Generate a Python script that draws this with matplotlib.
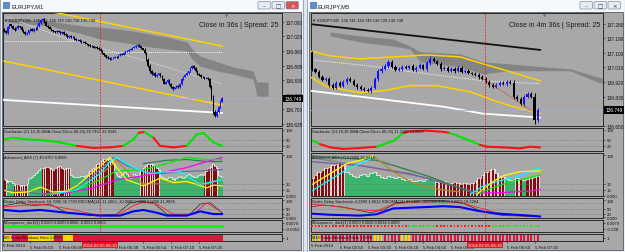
import matplotlib
matplotlib.use("Agg")
import matplotlib.pyplot as plt
import matplotlib.transforms as mtrans
from matplotlib.patches import Rectangle, FancyBboxPatch
import numpy as np

plt.rcParams['font.family'] = ['Liberation Sans', 'DejaVu Sans']

W, H = 625, 253
BG = '#a8a8a8'
BULL = '#1414ff'
BEAR = '#000000'

# ================= LEFT WINDOW : EURJPY,M1 =================
open0_l = 137.060
close_l = [137.050, 137.040, 137.065, 137.078, 137.070, 137.060, 137.055, 137.062, 137.070, 137.066,
           137.055, 137.045, 137.035, 137.040, 137.052, 137.058, 137.050, 137.060, 137.058, 137.070,
           137.085, 137.098, 137.102, 137.090, 137.072, 137.066, 137.060, 137.052, 137.048, 137.044,
           137.050, 137.046, 137.040, 137.044, 137.036, 137.030, 137.022, 137.028, 137.020, 137.024,
           137.014, 137.008, 137.010, 137.004, 136.998, 137.002, 136.994, 136.990, 136.986, 136.982,
           136.980, 136.975, 136.978, 136.972, 136.969, 136.962, 136.950, 136.940, 136.934, 136.928,
           136.924, 136.928, 136.930, 136.935, 136.933, 136.940, 136.946, 136.944, 136.952, 136.958,
           136.960, 136.966, 136.969, 136.975, 136.978, 136.982, 136.986, 136.980, 136.972, 136.966,
           136.950, 136.920, 136.895, 136.870, 136.857, 136.862, 136.848, 136.855, 136.860, 136.850,
           136.835, 136.815, 136.822, 136.830, 136.815, 136.800, 136.792, 136.798, 136.805, 136.800,
           136.815, 136.835, 136.845, 136.855, 136.862, 136.870, 136.885, 136.893, 136.885, 136.870,
           136.858, 136.852, 136.845, 136.842, 136.838, 136.840, 136.835, 136.800, 136.750, 136.690,
           136.672, 136.690, 136.712, 136.735, 136.749]
wick_l = [4, 3, 5, 4, 3, 4, 5, 3, 4, 3,
          4, 5, 3, 4, 3, 4, 3, 4, 5, 4,
          5, 4, 6, 4, 3, 4, 3, 4, 3, 3,
          4, 3, 4, 3, 4, 3, 4, 3, 3, 4,
          3, 4, 3, 3, 4, 3, 4, 3, 3, 4,
          3, 4, 3, 3, 4, 5, 4, 3, 4, 3,
          5, 3, 4, 3, 3, 4, 3, 4, 3, 4,
          3, 4, 3, 4, 3, 4, 5, 3, 4, 3,
          5, 6, 8, 6, 5, 4, 5, 4, 3, 4,
          5, 4, 3, 4, 5, 4, 6, 3, 4, 3,
          4, 5, 4, 3, 4, 3, 4, 5, 4, 3,
          4, 3, 4, 3, 4, 3, 5, 6, 10, 12,
          8, 5, 4, 5, 4]
bid_l = 136.749
yticks_l = [137.090, 137.025, 136.960, 136.895, 136.830, 136.765, 136.700, 136.635]

chan_hi_x_l, chan_hi_l = [0, 124], [137.177, 136.982]
chan_lo_x_l, chan_lo_l = [0, 124], [136.915, 136.719]
white_x_l, white_l = [0, 124], [136.742, 136.684]
ma_x_l, ma_l = [1.7, 35.8, 83, 124], [137.111, 137.013, 136.911, 136.813]
piv1_x_l, piv1_l = [0, 41.5], [137.005, 137.005]
piv2_x_l, piv2_l = [54.6, 124], [136.957, 136.957]
cloud_x_l = [1.7, 26.2, 44.9, 54.6, 73.4, 83, 92.7, 104.1, 106.9, 111.5, 121.2, 130.3, 141.6, 143.9, 150.2]
cloud_top_l = [137.106, 137.093, 137.071, 137.066, 137.049, 137.035, 137.022, 137.000, 136.969, 136.937,
               136.912, 136.889, 136.871, 136.822, 136.822]
cloud_bot_l = [137.089, 137.071, 137.035, 137.013, 136.991, 136.978, 136.969, 136.960, 136.924, 136.893,
               136.871, 136.857, 136.835, 136.759, 136.759]
vline_l = 54.6

stoch_x_l = [-0.3, 5.3, 12.9, 22.4, 31.9, 41.4, 50.8, 60.3, 67.9, 73.6, 76.7, 80.1, 85, 88.8, 96.3,
             103.9, 109.6, 113.4, 119.1, 124]
stoch_v_l = [52, 60, 52, 48, 37, 20, 10, 13, 20, 52, 85, 88, 60, 20, 13, 20, 76, 84, 37, 20]
stoch_c_l = 'gggggrrrggrgrrrgggg'

adx_hist_l = [43, 40,
              35, 36, 38, 33,
              27, 29, 30, 26, 25, 27, 28, 30,
              42, 45, 48, 52, 56, 60, 65, 70,
              68, 70, 72, 71, 69, 66, 65, 68, 72, 74, 73, 70, 67, 66, 68, 70,
              52, 50, 48, 47, 46, 48, 50, 49, 48, 52,
              58, 62, 66, 70, 74, 78, 82, 86, 88, 90, 91, 90, 88, 85, 80,
              58, 55, 50, 48, 52, 56, 60, 55, 48, 45, 50, 54, 52, 50, 56,
              66, 70, 74, 77, 80, 79, 78, 76, 73, 70, 64,
              50, 47, 44, 42, 45, 48, 46, 43, 40, 44, 48, 50, 47, 45, 48, 52, 54, 52, 50, 48, 47, 50, 53, 55, 52,
              56, 62, 68, 72, 76, 78, 74, 68,
              52, 50, 48]
adx_runs_l = [('m', 2), ('g', 4), ('m', 8), ('g', 8), ('m', 16), ('g', 10), ('m', 15), ('g', 15),
              ('m', 11), ('g', 25), ('m', 8), ('g', 3)]
adx_lines_l = {
    '#6b6ba8': ([0, 9.1, 20.7, 35.7, 50.8, 62.2, 69.8, 79.3, 88.8, 100.1, 111.5, 124],
                [15, 12, 5, 10, 50, 95, 75, 60, 55, 60, 62, 65]),
    '#2e7d4f': ([79.3, 92.6, 103.9, 115.3, 124], [80, 88, 90, 85, 85]),
    '#b8862b': ([56.9, 64.1, 73.6, 79.3, 88.8, 96.5, 103.9, 115.3, 124], [60, 88, 45, 30, 30, 35, 35, 30, 40]),
    '#ff00ff': ([22.4, 35.7, 50.8, 64.1, 79.3, 92.6, 103.9, 115.3, 124], [3, 8, 20, 40, 50, 60, 70, 85, 95]),
    '#00ee00': ([24.1, 41.4, 54.6, 64.1, 79.3, 92.6, 103.9, 115.3, 124], [3, 15, 40, 62, 65, 80, 95, 90, 90]),
    '#00ffff': ([28.1, 41.4, 54.6, 60.3, 64.1, 73.6, 83.1, 92.6, 100.1, 111.5, 119.1, 124],
                [5, 15, 55, 85, 95, 70, 55, 60, 60, 28, 36, 40]),
    '#ffff00': ([0, 5.2, 13.8, 20.7, 27.6, 35.7, 41.4, 50.8, 60.3, 64.1, 69.8, 79.3, 88.8, 96.5, 103.9, 115.3, 119.1, 124],
                [14, 8, 10, 22, 10, 12, 25, 60, 95, 70, 40, 25, 44, 33, 36, 20, 27, 25]),
}

drake_blue_x_l = [0, 9.1, 20.5, 35.7, 54.6, 66, 73.6, 79.3, 86.9, 92.6, 103.9, 111.5, 119.1, 124]
drake_blue_l = [42, 34, 42, 26, 9, 9, 34, 42, 26, 9, 9, 34, 18, 18]
drake_red_x_l = [0, 9.1, 20.5, 35.7, 50.8, 64.1, 73.6, 79.3, 86.9, 96.5, 107.7, 115.3, 122.9]
drake_red_l = [59, 67, 76, 51, 17, 9, 67, 88, 76, 17, 17, 84, 34]
drake_blk_x_l = [0, 9.1, 16.7, 26.2, 35.7, 50.8, 64.1, 71.7, 77.4, 85, 92.6, 105.8, 111.5, 117.2, 124]
drake_blk_l = [67, 84, 67, 76, 26, 9, 17, 84, 92, 84, 17, 17, 76, 84, 26]

kumo_runs_l = [('y', 5), ('r', 9), ('y', 15), ('r', 5), ('y', 6), ('r', 85)]

time_ticks_l = [15, 31, 63, 79, 95, 111]
time_labels_l = ['5 Feb 05:50', '5 Feb 06:06', '5 Feb 06:38', '5 Feb 06:54', '5 Feb 07:10', '5 Feb 07:26']

# ================= RIGHT WINDOW : EURJPY,M5 =================
open0_r = 137.100
close_r = [137.000, 136.985, 136.953, 136.935, 136.941, 136.904, 136.886, 136.916, 136.898, 136.922,
           136.941, 136.928, 136.904, 136.892, 136.879, 136.873, 136.867, 136.886, 136.941, 136.990,
           137.002, 137.020, 137.045, 137.014, 136.996, 137.002, 137.014, 137.008, 137.020, 136.996,
           137.008, 137.026, 137.002, 137.038, 137.063, 137.051, 137.032, 137.002, 137.008, 136.990,
           137.002, 136.990, 137.008, 136.984, 136.990, 136.977, 136.971, 136.965, 136.953, 136.941,
           136.922, 136.904, 136.892, 136.904, 136.916, 136.910, 136.922, 136.916, 136.830, 136.818,
           136.788, 136.830, 136.849, 136.830, 136.684, 136.749]
wick_r = [12, 8, 10, 8, 10, 12, 8, 10, 8, 10,
          12, 8, 10, 12, 8, 10, 8, 12, 10, 12,
          15, 10, 12, 8, 10, 8, 12, 10, 8, 10,
          12, 10, 8, 12, 15, 10, 8, 12, 10, 8,
          10, 12, 8, 10, 8, 10, 8, 10, 12, 8,
          10, 12, 8, 10, 8, 10, 12, 8, 15, 12,
          10, 12, 10, 8, 20, 10]
bid_r = 136.749
yticks_r = [137.280, 137.190, 137.100, 137.010, 136.920, 136.830, 136.650]

black_x_r, black_r = [-0.6, 65.6], [137.277, 137.118]
chan_hi_x_r = [-0.6, 5.2, 13.8, 23.3, 33.1, 42.6, 49.2, 56.9, 65.6]
chan_hi_r = [137.112, 137.081, 137.063, 137.075, 137.087, 137.075, 137.032, 136.984, 136.928]
chan_lo_x_r = [-0.6, 4.3, 13.8, 20.4, 28.2, 36.0, 45.4, 53.2, 59.8, 65.6]
chan_lo_r = [136.953, 136.892, 136.855, 136.867, 136.898, 136.898, 136.861, 136.800, 136.757, 136.726]
mid_x_r = [-0.6, 5.2, 18.7, 28.2, 37.7, 49.2, 65.6]
mid_r = [137.057, 137.045, 137.014, 136.984, 136.959, 136.928, 136.910]
white_x_r = [-0.6, 18.7, 37.7, 49.2, 65.6]
white_r = [136.867, 136.818, 136.769, 136.726, 136.702]
cloud_x_r = [5.2, 13.8, 23.3, 28.2, 31.1, 42.6, 49.2, 56.9, 66.5, 74.2, 82.0, 83.7]
cloud_top_r = [137.228, 137.204, 137.185, 137.142, 137.106, 137.094, 137.045, 137.032, 137.014, 137.002, 136.953, 136.941]
cloud_bot_r = [137.204, 137.167, 137.142, 137.124, 137.045, 137.014, 136.971, 136.990, 136.990, 136.990, 136.922, 136.910]
trend_x_r, trend_r = [49.2, 63.6], [136.941, 136.739]
vline_r = 49.8

stoch_x_r = [-0.6, 2.3, 5.2, 9, 13.8, 18.6, 23.4, 26.3, 28.2, 33, 37.7, 39.6, 44.5, 48.3, 50.3, 55, 59.8, 62.7, 65.6]
stoch_v_r = [52, 29, 13, 5, 10, 16, 44, 84, 92, 95, 89, 84, 52, 25, 16, 13, 8, 16, 13]
stoch_c_r = 'grrrrggrrrrggrrrrr'

adx_hist_r = [45, 52, 58, 63, 68, 72, 76, 80, 83, 82,
              58, 54, 50, 48, 52, 55, 50, 56, 58, 52, 48, 45, 50, 47, 44, 46, 42, 40, 42, 38, 36, 40, 38, 42, 44, 40,
              35, 34, 36, 33, 32, 34, 33, 30, 32, 30,
              32, 38, 45, 52, 58, 64, 66, 56,
              50, 46, 42, 40, 38, 44, 42, 40, 42, 45, 48, 50]
adx_runs_r = [('m', 10), ('g', 26), ('m', 20), ('g', 3), ('m', 2), ('g', 1), ('m', 4)]
adx_lines_r = {
    '#808080': ([-0.6, 17.5, 35.9, 47.4], [95, 70, 40, 5]),
    '#7a5aa0': ([-0.6, 13.8, 28.2, 42.5, 49.1], [85, 75, 55, 20, 5]),
    '#2e7d4f': ([-0.6, 18.6, 33, 45.6], [99, 88, 50, 10]),
    '#b8862b': ([17.6, 23.4, 28.2, 33, 37.7, 42.5], [99, 60, 35, 22, 15, 10]),
    '#ff00ff': ([49.1, 54.4, 57.9, 62.7, 65.6], [8, 8, 10, 12, 16]),
    '#00ee00': ([47.4, 52, 56.9, 62.7, 65.6], [5, 20, 35, 45, 52]),
    '#00ffff': ([-0.6, 5.2, 10, 17.6], [10, 40, 65, 95]),
    '#00fffe': ([45.6, 49.3, 55, 59.8, 65.6], [5, 25, 40, 50, 70]),
    '#ffff00': ([-0.6, 5.2, 10, 13.8, 17.6], [25, 55, 80, 88, 99]),
    '#fffe00': ([47.4, 52, 55, 59.8, 65.6], [5, 35, 50, 60, 62]),
}

drake_blue_x_r = [-0.6, 5.2, 13.8, 18.6, 23.4, 28.2, 33, 37.7, 42.5, 47.4, 53.1, 58.8, 65.6]
drake_blue_r = [21, 14, 9, 17, 51, 55, 59, 64, 59, 38, 21, 14, 4]
drake_red_x_r = [-0.6, 5.2, 13.8, 18.6, 23.4, 28.2, 37.7, 42.5, 47.4, 53.1, 58.8, 65.6]
drake_red_r = [76, 67, 42, 38, 76, 88, 92, 88, 59, 26, 9, 4]
drake_blk_x_r = [-0.6, 3.2, 9, 16.7, 20.5, 24.4, 28.2, 33, 37.7, 43.5, 49.3, 55, 65.6]
drake_blk_r = [59, 71, 59, 26, 42, 84, 92, 97, 97, 80, 30, 9, 4]

mosq_runs_r = [('r', 28), ('g', 8), ('r', 16), ('g', 14)]
kumo_runs_r = [('y', 3), ('r', 15), ('y', 3), ('r', 5), ('y', 3), ('r', 37)]

time_ticks_r = [8, 16, 24, 32, 40, 56, 64]
time_labels_r = ['5 Feb 02:50', '5 Feb 03:30', '5 Feb 04:10', '5 Feb 04:50', '5 Feb 05:30',
                 '5 Feb 06:50', '5 Feb 07:30']

# ================= drawing =================
fig = plt.figure(figsize=(W / 100, H / 100), dpi=100)
fig.patch.set_facecolor('#dde6f1')

bg = fig.add_axes([0, 0, 1, 1])
bg.set_xlim(0, W)
bg.set_ylim(H, 0)
bg.axis('off')
bg.set_zorder(-10)


def window(x0, x1, title, close_red):
    bg.add_patch(Rectangle((x0, 0), x1 - x0, H, fc='#eaf0f7', ec='#8d9db2', lw=0.6))
    bg.add_patch(Rectangle((x0 + 1, 1), x1 - x0 - 2, 11.5, fc='#f6f9fc', ec='none'))
    bg.add_patch(Rectangle((x0 + 2, 13), x1 - x0 - 4, 238, fc=BG, ec='#5a5a5a', lw=0.6))
    bg.add_patch(Rectangle((x0 + 3, 3), 6, 6, fc='#5d8fd0', ec='#2c5a9a', lw=0.4))
    bg.text(x0 + 11, 6.5, title, fontsize=4.2, va='center', ha='left', color='#1a1a1a')
    bx = x1 - 45
    for k, glyph in enumerate(['\u2013', '\u25a1', '\u00d7']):
        fc = '#d9534f' if (k == 2 and close_red) else '#e6ecf3'
        tc = 'white' if (k == 2 and close_red) else '#333333'
        bg.add_patch(FancyBboxPatch((bx + 14 * k, 2.5), 12.5, 7.5, boxstyle='round,pad=0,rounding_size=1.2',
                                    fc=fc, ec='#7f8fa6', lw=0.5))
        bg.text(bx + 14 * k + 6.25, 6.4, glyph, fontsize=4, ha='center', va='center', color=tc,
                family=['DejaVu Sans'])


window(0, 303, 'EURJPY,M1', True)
window(307, 625, 'EURJPY,M5', False)


def ax_px(x0, y0, x1, y1):
    return fig.add_axes([x0 / W, 1 - y1 / H, (x1 - x0) / W, (y1 - y0) / H])


def style(ax, xlim, ylim, lsize=3.2):
    ax.set_facecolor(BG)
    ax.set_xlim(*xlim)
    ax.set_ylim(*ylim)
    ax.yaxis.tick_right()
    ax.tick_params(axis='y', length=1.5, width=0.4, pad=1, labelsize=lsize, colors='#111111')
    ax.tick_params(axis='x', bottom=False, labelbottom=False)
    for s in ax.spines.values():
        s.set_color('#2a2a2a')
        s.set_linewidth(0.7)


def runs(r):
    out = []
    for c, n in r:
        out += [c] * n
    return out


def label(ax, txt):
    ax.text(0.004, 0.96, txt, transform=ax.transAxes, fontsize=2.9, va='top', ha='left', color='#111111')


def candles(ax, o0, closes, wicks, width, wlw):
    c = np.array(closes)
    o = np.concatenate([[o0], c[:-1]])
    w = np.array(wicks) * 0.001
    x = np.arange(len(c))
    hi = np.maximum(o, c) + w
    lo = np.minimum(o, c) - w
    col = [BULL if cc >= oo else BEAR for oo, cc in zip(o, c)]
    ax.vlines(x, lo, hi, colors=col, linewidth=wlw, zorder=6)
    h = np.maximum(np.abs(c - o), 0.0015)
    ax.bar(x, h, bottom=np.minimum(o, c), width=width, color=col, linewidth=0, zorder=7)


def vline(ax, xv):
    ax.axvline(xv, color='#e8201c', lw=0.6, ls=(0, (2, 1.6)), zorder=9)


def build(side):
    if side == 'L':
        X0, X1 = 3, 282
        xl = (-0.57, 158.1)
        n = len(close_l)
        d = dict(o0=open0_l, close=close_l, wick=wick_l, bid=bid_l, yt=yticks_l, ylim=(136.626, 137.129),
                 bw=0.85, wlw=0.7, vl=vline_l)
    else:
        X0, X1 = 311, 603
        xl = (-0.29, 83.7)
        n = len(close_r)
        d = dict(o0=open0_r, close=close_r, wick=wick_r, bid=bid_r, yt=yticks_r, ylim=(136.653, 137.345),
                 bw=0.62, wlw=0.7, vl=vline_r)
    x = np.arange(n)

    # ---- main price chart ----
    ax = ax_px(X0, 14, X1, 127)
    style(ax, xl, d['ylim'], lsize=3.4)
    ax.set_yticks(d['yt'])
    ax.set_yticklabels(['%.3f' % v for v in d['yt']])
    if side == 'L':
        ax.fill_between(cloud_x_l, cloud_bot_l, cloud_top_l, color='#848484', lw=0, zorder=1)
        ax.plot(ma_x_l, ma_l, color='#c8c8c8', lw=0.6, zorder=2)
        ax.plot(piv1_x_l, piv1_l, color='#f2f2f2', lw=0.7, ls=(0, (1, 1)), zorder=2)
        ax.plot(piv2_x_l, piv2_l, color='#f2f2f2', lw=0.7, ls=(0, (1, 1)), zorder=2)
        ax.plot(chan_hi_x_l, chan_hi_l, color='#ffd200', lw=1.1, zorder=3)
        ax.plot(chan_lo_x_l, chan_lo_l, color='#ffd200', lw=1.1, zorder=3)
        ax.plot(white_x_l, white_l, color='white', lw=1.3, zorder=3)
        label(ax, '\u25bc EURJPY,M1  136.741 136.749 136.738 136.749')
        ax.text(0.986, 0.93, 'Close in 36s | Spread: 25', transform=ax.transAxes, fontsize=5,
                ha='right', va='top', color='#1a1a1a')
    else:
        ax.fill_between(cloud_x_r, cloud_bot_r, cloud_top_r, color='#848484', lw=0, zorder=1)
        ax.plot(black_x_r, black_r, color='#111111', lw=1.3, zorder=3)
        ax.plot(mid_x_r, mid_r, color='#f2f2f2', lw=0.7, ls=(0, (1, 1)), zorder=2)
        ax.plot(chan_hi_x_r, chan_hi_r, color='#ffd200', lw=1.1, zorder=3)
        ax.plot(chan_lo_x_r, chan_lo_r, color='#ffd200', lw=1.1, zorder=3)
        ax.plot(white_x_r, white_r, color='white', lw=1.3, zorder=3)
        ax.plot(trend_x_r, trend_r, color='#e8201c', lw=0.6, ls=(0, (1, 1)), zorder=8)
        label(ax, '\u25bc EURJPY,M5  136.741 136.749 136.728 136.749')
        ax.text(0.99, 0.93, 'Close in 4m 36s | Spread: 25', transform=ax.transAxes, fontsize=5,
                ha='right', va='top', color='#1a1a1a')
    ax.axhline(d['bid'], color='#a3b3c8', lw=0.6, zorder=4)
    candles(ax, d['o0'], d['close'], d['wick'], d['bw'], d['wlw'])
    vline(ax, d['vl'])
    tr = mtrans.blended_transform_factory(ax.transAxes, ax.transData)
    ax.text(1.008, d['bid'], '%.3f' % d['bid'], transform=tr, fontsize=3.4, color='white', va='center',
            ha='left', bbox=dict(fc='black', ec='none', pad=0.9), zorder=20, clip_on=False)
    ax.text(0.80, 1.0, '\u25bc', transform=ax.transAxes, fontsize=3, color='#6a6a6a', ha='center', va='top',
            family=['DejaVu Sans'])

    # ---- stochastic ----
    ax = ax_px(X0, 129, X1, 152)
    style(ax, xl, (-5, 108))
    ax.set_yticks([100, 50, 20])
    ax.set_yticklabels(['100', '50', '20'])
    for lv in (50, 20):
        ax.axhline(lv, color='#6f6f6f', lw=0.4, ls=(0, (2, 2)))
    sx, sv, sc = (stoch_x_l, stoch_v_l, stoch_c_l) if side == 'L' else (stoch_x_r, stoch_v_r, stoch_c_r)
    cm = {'g': '#00e400', 'r': '#ff1010'}
    for i in range(len(sx) - 1):
        ax.plot(sx[i:i + 2], sv[i:i + 2], color=cm[sc[i]], lw=1.5, solid_capstyle='round')
    vline(ax, d['vl'])
    label(ax, 'Stochastic (21,10,10,SMA,Close/Close,80,20) ' +
          ('28.7967 21.9145' if side == 'L' else '11.2100 14.8827'))

    # ---- advanced ADX ----
    ax = ax_px(X0, 154, X1, 197)
    style(ax, xl, (0, 106))
    ax.set_yticks([100, 30, 15, 0])
    ax.set_yticklabels(['100', '30', '15', '0.000'])
    hv = np.array(adx_hist_l if side == 'L' else adx_hist_r)
    hc = np.array(runs(adx_runs_l if side == 'L' else adx_runs_r))
    gm = hc == 'g'
    mm = hc == 'm'
    ax.bar(x[gm], hv[gm], width=1.0, color='#3cb46e', linewidth=0)
    ax.bar(x[mm], hv[mm], width=1.0, color='#e8d4d4', linewidth=0)
    ax.bar(x[mm], hv[mm], width=0.62, color='#7d0f12', linewidth=0)
    ax.step(x, hv, where='mid', color='white', lw=0.5)
    for col, (lx, lv) in (adx_lines_l if side == 'L' else adx_lines_r).items():
        ax.plot(lx, lv, color=col, lw=0.9)
    vline(ax, d['vl'])
    for lv in (30, 15):
        ax.axhline(lv, color='#6f6f6f', lw=0.4, ls=(0, (2, 2)))
    label(ax, 'Advanced_ADX (7) ' + ('40.4707 0.0000' if side == 'L' else '0.0000 39.4914'))

    # ---- drake delay stochastic ----
    ax = ax_px(X0, 199, X1, 219)
    style(ax, xl, (-5, 112))
    ax.set_yticks([100, 50, 20, 0])
    ax.set_yticklabels(['100', '50', '20', '0.000'])
    for lv in (80, 50, 20):
        ax.axhline(lv, color='#6f6f6f', lw=0.4, ls=(0, (2, 2)))
    if side == 'L':
        ax.plot(drake_blk_x_l, drake_blk_l, color='#2a2a2a', lw=0.5)
        ax.plot(drake_red_x_l, drake_red_l, color='#ff2020', lw=0.6)
        ax.plot(drake_blue_x_l, drake_blue_l, color='#0000ff', lw=1.5)
        label(ax, 'Drake Delay Stochastic 18.7096 36.7700 RSIOMA(14) 31.2663 -10.0000 0.0000 0.0000 21.9938')
    else:
        ax.plot(drake_blk_x_r, drake_blk_r, color='#2a2a2a', lw=0.5)
        ax.plot(drake_red_x_r, drake_red_r, color='#ff2020', lw=0.6)
        ax.plot(drake_blue_x_r, drake_blue_r, color='#0000ff', lw=1.5)
        label(ax, 'Drake Delay Stochastic 4.2989 1.8612 RSIOMA(14) 27.5885 -10.0000 0.0000 0.0000 19.2264')
    vline(ax, d['vl'])

    # ---- mosqueeze ----
    ax = ax_px(X0, 221, X1, 233)
    style(ax, xl, (-1, 1))
    ax.set_yticks([0.55, -0.45])
    if side == 'L':
        ax.set_yticklabels(['0.0079', '-0.0052'])
        ax.plot(x, np.zeros(n), color='#00ff00', lw=2.2)
        label(ax, 'Mosqueeze_dark(1) 0.0000 0.0000 0.0000 -0.0052 0.0000')
    else:
        ax.set_yticklabels(['0.0079', '-0.228'])
        mc = ['#ff1a1a' if c == 'r' else '#19e619' for c in runs(mosq_runs_r)]
        ax.scatter(x, np.zeros(n), marker='s', s=1.6, c=mc, linewidths=0, zorder=3)
        label(ax, 'Mosqueeze_dark(1) 0.0000 0.0000 0.0014 0.0000')
    vline(ax, d['vl'])

    # ---- kumo breakout histo + time axis ----
    ax = ax_px(X0, 235, X1, 242)
    style(ax, xl, (0, 1))
    ax.set_yticks([0.5])
    ax.set_yticklabels(['1'])
    kc = ['#ffd700' if c == 'y' else '#e0143c' for c in runs(kumo_runs_l if side == 'L' else kumo_runs_r)]
    ax.bar(x, np.ones(n), width=1.0 if side == 'L' else 0.55, color=kc, linewidth=0, align='center')
    ax.text(0.004, 0.5, ('M5' if side == 'L' else 'M15') + ' Kumo Breakout Histo 1.0000',
            transform=ax.transAxes, fontsize=2.9, va='center', ha='left', color='#111111')
    vline(ax, d['vl'])
    tt, tl = (time_ticks_l, time_labels_l) if side == 'L' else (time_ticks_r, time_labels_r)
    ax.set_xticks(tt)
    ax.set_xticklabels(tl)
    ax.tick_params(axis='x', bottom=True, labelbottom=True, length=1.5, width=0.4, pad=1.2,
                   labelsize=3.2, colors='#111111')
    for t in ax.get_xticklabels():
        t.set_ha('left')
    ax.text(0.0, -0.3, '5 Feb 2014', transform=ax.transAxes, fontsize=3.2, ha='left', va='top', color='#111111')
    trx = mtrans.blended_transform_factory(ax.transData, ax.transAxes)
    ax.text(d['vl'], -0.25, '2014.02.05 06:30', transform=trx, fontsize=3.2, ha='center', va='top',
            color='white', bbox=dict(fc='#e8141e', ec='none', pad=0.8), zorder=20, clip_on=False)


build('L')
build('R')

fig.savefig('out.png', dpi=100, facecolor=fig.get_facecolor())
